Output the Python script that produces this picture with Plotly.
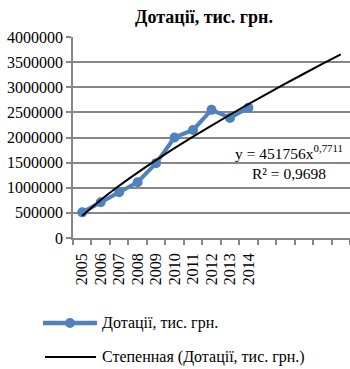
import numpy as np
import plotly.graph_objects as go

years = ["2005", "2006", "2007", "2008", "2009", "2010", "2011", "2012", "2013", "2014"]
dotatsii = [510000, 710000, 910000, 1110000, 1490000, 2000000, 2150000, 2550000, 2390000, 2590000]
forecast_periods = 15
y_ticks = [0, 500000, 1000000, 1500000, 2000000, 2500000, 3000000, 3500000, 4000000]

title_text = "Дотації, тис. грн."
series_name = "Дотації, тис. грн."
trend_name = "Степенная (Дотації, тис. грн.)"
eq_text = "y = 451756x<sup>0,7711</sup><br>R² = 0,9698"

x_idx = np.arange(1, len(years) + 1)
# power trendline fitted on the data (log-log regression), extended forward
b, ln_a = np.polyfit(np.log(x_idx), np.log(dotatsii), 1)
x_tr = np.arange(1, forecast_periods + 1)
y_tr = np.exp(ln_a) * x_tr ** b

FONT = "Liberation Serif"
BLUE = "#4F81BD"
GRID = "#868686"

W, H = 350, 369
L, R, T, B = 73, 0, 37, 131
PW, PH = W - L - R, H - T - B


def px_x(px):
    return (px - L) / PW


def px_y(py):
    return (H - B - py) / PH


fig = go.Figure()
fig.add_trace(go.Scatter(
    x=x_idx, y=dotatsii, mode="lines+markers", name=series_name,
    line=dict(color=BLUE, width=4), marker=dict(color=BLUE, size=10, symbol="circle"),
))
fig.add_trace(go.Scatter(
    x=x_tr, y=y_tr, mode="lines", name=trend_name,
    line=dict(color="black", width=2, shape="spline"),
))

fig.add_annotation(
    x=12.2, y=1520000, xref="x", yref="y", text=eq_text, showarrow=False,
    font=dict(family=FONT, size=15.5, color="black"), align="center",
)

# legend drawn by hand (keeps exact placement below the plot)
legend_items = [
    dict(name=series_name, color=BLUE, width=4.5, marker=True, y=323, x0=43, x1=97),
    dict(name=trend_name, color="black", width=2, marker=False, y=357, x0=45, x1=96),
]
for it in legend_items:
    fig.add_shape(type="line", xref="paper", yref="paper",
                  x0=px_x(it["x0"]), x1=px_x(it["x1"]), y0=px_y(it["y"]), y1=px_y(it["y"]),
                  line=dict(color=it["color"], width=it["width"]))
    if it["marker"]:
        cx = (it["x0"] + it["x1"]) / 2
        fig.add_shape(type="circle", xref="paper", yref="paper",
                      x0=px_x(cx - 5), x1=px_x(cx + 5),
                      y0=px_y(it["y"] + 5), y1=px_y(it["y"] - 5),
                      fillcolor=it["color"], line=dict(color=it["color"], width=0))
    fig.add_annotation(x=px_x(100), y=px_y(it["y"]), xref="paper", yref="paper",
                       text=it["name"], showarrow=False, xanchor="left", yanchor="middle",
                       font=dict(family=FONT, size=16, color="black"))

fig.update_layout(
    width=W, height=H, autosize=False,
    margin=dict(l=L, r=R, t=T, b=B),
    paper_bgcolor="white", plot_bgcolor="white",
    font=dict(family=FONT, size=16, color="black"),
    title=dict(text="<b>" + title_text + "</b>", x=204 / W, xref="container", xanchor="center",
               y=1 - 17 / H, yref="container", yanchor="middle",
               font=dict(family=FONT, size=18, color="black")),
    showlegend=False,
)

fig.update_xaxes(
    range=[0.5, forecast_periods + 0.5], tickmode="array", tickvals=list(x_idx), ticktext=years,
    tickangle=-90, ticks="", showgrid=False, zeroline=False, automargin=False,
    ticklabelstandoff=7,
    showline=True, linecolor=GRID, linewidth=1.5,
    tickfont=dict(family=FONT, size=16, color="black"),
    minor=dict(tickmode="linear", tick0=0.5, dtick=1, ticks="outside", ticklen=5,
               tickcolor=GRID, tickwidth=1.5, showgrid=False),
)
fig.update_yaxes(
    range=[0, 4000000], tickmode="array", tickvals=y_ticks, ticktext=[str(v) for v in y_ticks],
    ticks="outside", ticklen=5, tickcolor=GRID, tickwidth=1.5, automargin=False,
    showgrid=True, gridcolor=GRID, gridwidth=1.5, zeroline=False,
    showline=True, linecolor=GRID, linewidth=1.5,
    tickfont=dict(family=FONT, size=16, color="black"),
)

fig.write_html("out.html", config={"displayModeBar": False},
               post_script="document.body.style.margin='0';document.body.style.overflow='hidden';")
